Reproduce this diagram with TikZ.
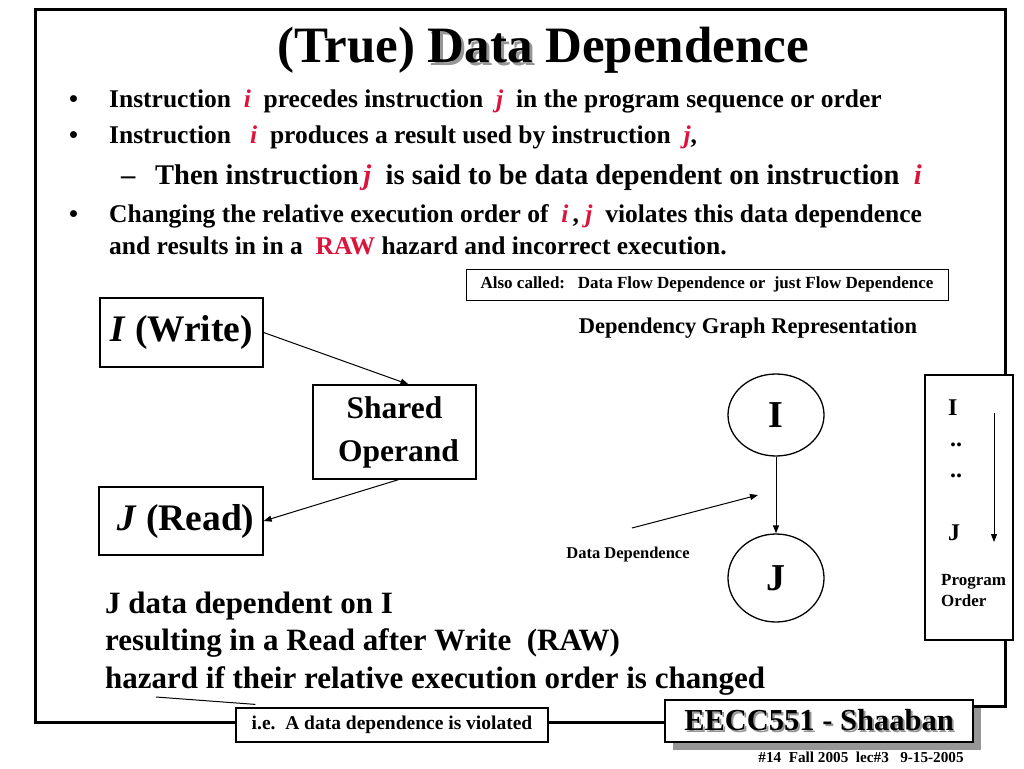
\documentclass[tikz,border=0pt]{standalone}
\usepackage{fontspec}
\setmainfont{Liberation Serif}
\usetikzlibrary{arrows.meta,shapes.geometric}
\definecolor{redi}{RGB}{220,20,60}
\definecolor{shad}{RGB}{150,150,150}
\newcommand\shw[2][2pt]{\rlap{\hspace{#1}\raisebox{-#1}{\textcolor{shad}{#2}}}#2}
\newcommand\ri[1]{\textcolor{redi}{\textit{#1}}}
\begin{document}
\begin{tikzpicture}[x=1pt,y=-1pt,
  txt/.style={anchor=base west, inner sep=0pt, font=\bfseries},
  bul/.style={txt, font=\bfseries\fontsize{25.5}{30}\selectfont},
  box/.style={draw, line width=1.3pt, fill=white},
  arr/.style={-{Triangle[length=8pt,width=6pt]}, line width=1pt},
  frame/.style={line width=3pt}]
\useasboundingbox (0,0) rectangle (1024,768);
\fill[white] (0,0) rectangle (1024,768);
% frame
\draw[frame] (236,722) -- (35,722) -- (35,10) -- (1005,10) -- (1005,706) -- (973,706);
\draw[frame] (548,722) -- (665,722);
% title
\node[anchor=base, inner sep=0pt, font=\bfseries\fontsize{51}{56}\selectfont] (title) at (543,63) {(True) \shw[3pt]{Data} Dependence};
% bullets
\node[bul] (b1d) at (69,107) {•};
\node[bul] (b1) at (109,107) {Instruction\ \ \ri{i}\ \ precedes instruction\ \ \ri{j}\ \ in the program sequence or order};
\node[bul] (b2d) at (69,143) {•};
\node[bul] (b2) at (109,143) {Instruction\ \ \ \ri{i}\ \ produces a result used by instruction\ \ \ri{j},};
\node[txt, font=\bfseries\fontsize{28.5}{32}\selectfont] (s1d) at (121,184) {–};
\node[txt, font=\bfseries\fontsize{28.5}{32}\selectfont] (s1) at (155,184) {Then instruction\,\ri{j}\ \ is said to be data dependent on instruction\ \ \ri{i}};
\node[bul] (b3d) at (69,222) {•};
\node[bul] (b3) at (109,222) {Changing the relative execution order of\ \ \ri{i}\,,\ \ri{j}\ \ violates this data dependence};
\node[bul] (b3b) at (109,254) {and results in in a\ \ \textcolor{redi}{RAW} hazard and incorrect execution.};
% also called
\node[box, line width=1pt, minimum width=482pt, minimum height=31pt, font=\bfseries\fontsize{17}{20}\selectfont] (also) at (707,284.5) {Also called:\ \ \ Data Flow Dependence or\ \ just Flow Dependence};
\node[anchor=base, inner sep=0pt, font=\bfseries\fontsize{22.5}{26}\selectfont] (dgr) at (748,333) {Dependency Graph Representation};
% left graph
\node[box, minimum width=163pt, minimum height=69pt, font=\bfseries\fontsize{37.5}{40}\selectfont] (iw) at (181.5,332.5) {\textit{I} (Write)};
\node[box, minimum width=163pt, minimum height=94pt, align=center, font=\bfseries\fontsize{31.5}{43}\selectfont] (so) at (394.5,432) {Shared\\\ Operand};
\node[box, minimum width=164pt, minimum height=68pt, font=\bfseries\fontsize{37.5}{40}\selectfont] (jr) at (181,521) {\ \textit{J} (Read)};
\draw[arr] (iw.east) -- ([xshift=14pt]so.north);
\draw[arr] ([xshift=4pt]so.south) -- (jr.east);
% dependency graph
\node[draw, ellipse, line width=1.3pt, minimum width=96pt, minimum height=82pt, font=\bfseries\fontsize{38}{40}\selectfont] (I) at (776,415) {I};
\node[draw, ellipse, line width=1.3pt, minimum width=96pt, minimum height=88pt, font=\bfseries\fontsize{38}{40}\selectfont] (J) at (776,578) {J};
\draw[arr] (I.south) -- (J.north);
\coordinate (dd1) at (632,528);
\coordinate (dd2) at (758,495);
\draw[arr] (dd1) -- (dd2);
\node[anchor=base, inner sep=0pt, font=\bfseries\fontsize{16.5}{19}\selectfont] (ddl) at (628,558) {Data Dependence};
% program order
\node[box, minimum width=88pt, minimum height=265pt] (po) at (969,507.5) {};
\node[txt, font=\bfseries\fontsize{24}{26}\selectfont] (poi) at (948,415) {I};
\node[txt, font=\bfseries\fontsize{24}{26}\selectfont] (pod1) at (950,446) {..};
\node[txt, font=\bfseries\fontsize{24}{26}\selectfont] (pod2) at (950,477) {..};
\node[txt, font=\bfseries\fontsize{24}{26}\selectfont] (poj) at (948,540) {J};
\node[txt, font=\bfseries\fontsize{17}{20}\selectfont] (pop) at (941,585) {Program};
\node[txt, font=\bfseries\fontsize{17}{20}\selectfont] (poo) at (941,606) {Order};
\coordinate (poa1) at (994,413);
\coordinate (poa2) at (994,542);
\draw[arr, line width=0.9pt] (poa1) -- (poa2);
% conclusion
\node[txt, font=\bfseries\fontsize{31}{34}\selectfont] (c1) at (105,613) {J data dependent on I};
\node[txt, font=\bfseries\fontsize{31}{34}\selectfont] (c2) at (105,650) {resulting in a Read after Write\ \ (RAW)};
\node[txt, font=\bfseries\fontsize{31}{34}\selectfont] (c3) at (105,688) {hazard if their relative execution order is changed};
% i.e. box
\node[box, line width=1.2pt, minimum width=312pt, minimum height=34pt, font=\bfseries\fontsize{19.5}{22}\selectfont] (ie) at (392,725) {i.e.\ \ A data dependence is violated};
\coordinate (hz) at (156,697);
\draw[line width=1pt] (hz) -- ([xshift=20pt,yshift=3pt]ie.north west);
% EECC box
\fill[shad] (673,708) rectangle (981,750);
\node[box, line width=1.3pt, minimum width=308pt, minimum height=42pt, font=\bfseries\fontsize{30.5}{32}\selectfont] (ee) at (819,721) {\shw{EECC551 - Shaaban}};
\node[anchor=base, inner sep=0pt, font=\bfseries\fontsize{15.2}{17}\selectfont] (foot) at (861,762) {\#14\ \ Fall 2005\ \ lec\#3\ \ \ 9-15-2005};
\end{tikzpicture}
\end{document}
